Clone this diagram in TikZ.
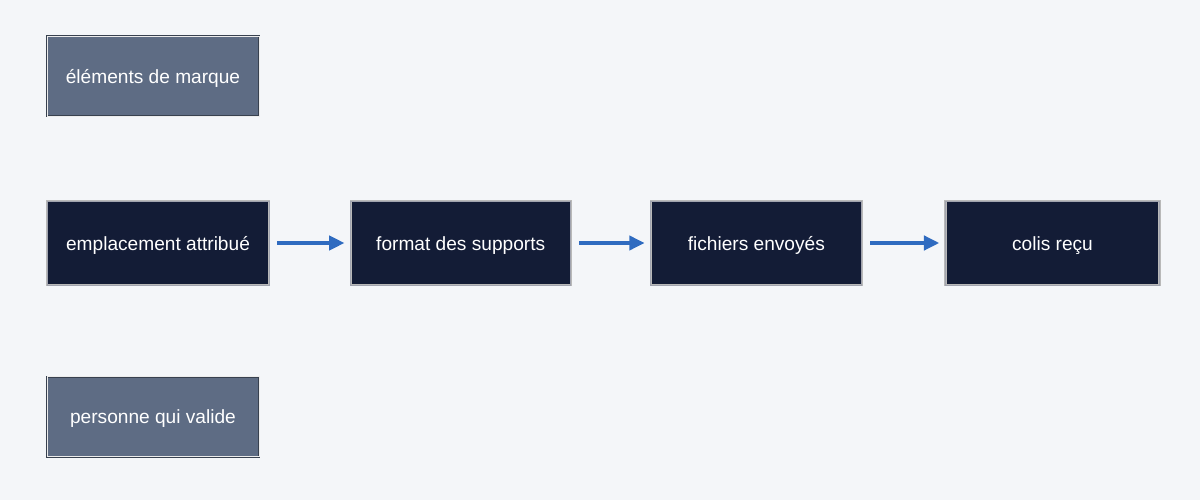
\documentclass[tikz,border=0pt]{standalone}
\usepackage{fontspec}
\setmainfont{Liberation Sans}
\usetikzlibrary{positioning, arrows.meta}

\definecolor{pagebg}{HTML}{F4F6F9}
\definecolor{stepfill}{HTML}{131C36}
\definecolor{sidefill}{HTML}{5E6C84}
\definecolor{flowblue}{HTML}{2F6BC0}

\begin{document}
\begin{tikzpicture}[>={Triangle[length=0.38cm,width=0.36cm]},
    font=\fontsize{13.6}{16}\selectfont,
    every node/.style={text height=11pt,text depth=1pt},
    stepbox/.style={rectangle,fill=stepfill,text=white,draw=gray!55,double=stepfill!40,
        double distance=0.5pt,line width=0.5pt,minimum height=2.1cm},
    sidebox/.style={rectangle,fill=sidefill,text=white,draw=sidefill!60!black,double=gray!15,
        double distance=0.5pt,line width=0.5pt,minimum width=5.3cm,minimum height=2cm},
    flow/.style={->,draw=flowblue,line width=2.2pt,shorten <=0.2cm,shorten >=0.15cm}]

\fill[pagebg] (0,0) rectangle (30,12.5);
\useasboundingbox (0,0) rectangle (30,12.5);

% main row
\node[stepbox,minimum width=5.55cm] (emplacement) at (3.95,6.425) {emplacement attribué};
\node[stepbox,minimum width=5.5cm]  (format)   [right=2.025cm of emplacement] {format des supports};
\node[stepbox,minimum width=5.275cm] (fichiers) [right=1.985cm of format]        {fichiers envoyés};
\node[stepbox,minimum width=5.35cm] (colis)    [right=2.075cm of fichiers]    {colis reçu};

% side boxes
\node[sidebox] (marque)  [above=2.1cm of emplacement.north west,anchor=south west] {éléments de marque};
\node[sidebox] (valideur) [below=2.275cm of emplacement.south west,anchor=north west] {personne qui valide};

\draw[flow] (emplacement) -- (format);
\draw[flow] (format) -- (fichiers);
\draw[flow] (fichiers) -- (colis);
\end{tikzpicture}
\end{document}
